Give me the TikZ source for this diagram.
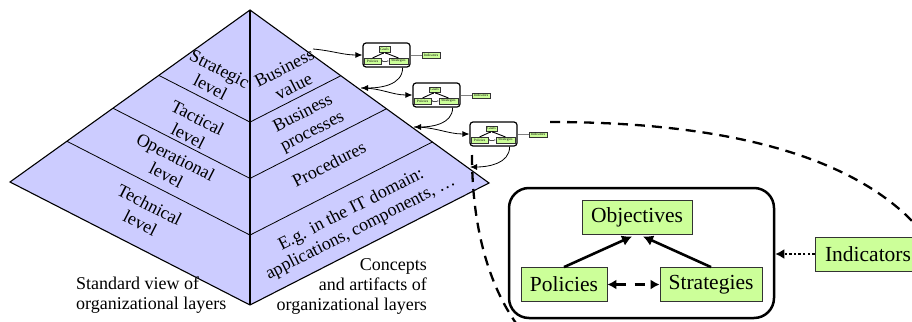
\documentclass[tikz,border=0pt]{standalone}
\usepackage{fontspec}
\setmainfont{Liberation Serif}
\usetikzlibrary{arrows.meta,calc}
\definecolor{lav}{RGB}{204,204,255}
\definecolor{lgreen}{RGB}{204,255,153}
\tikzset{
  edgeline/.style={line width=1.1pt,line join=miter},
  layerline/.style={line width=0.8pt},
  lefttxt/.style={rotate=-27,align=center,inner sep=0pt,font=\fontsize{18}{20.5}\selectfont},
  righttxt/.style={rotate=27,align=center,inner sep=0pt,font=\fontsize{18}{20.5}\selectfont},
  captxt/.style={inner sep=0pt,font=\fontsize{18}{20}\selectfont},
  miniframe/.style={draw,fill=white,line width=1.2pt,rounded corners=3pt,minimum width=47pt,minimum height=24pt,inner sep=0pt},
  minibox/.style={draw=black!80,fill=lgreen,line width=0.5pt,minimum height=5.5pt,inner sep=0.3pt,font=\fontsize{3.6}{4}\selectfont},
  miniarrow/.style={line width=0.9pt,-{Latex[length=2pt,width=2pt]}},
  minidbl/.style={line width=0.4pt,black!70,{Latex[length=1.5pt,width=1.5pt]}-{Latex[length=1.5pt,width=1.5pt]}},
  miniind/.style={line width=0.6pt,black!50},
  link/.style={line width=0.8pt,-{Latex[length=7pt,width=6pt]}},
  zoomline/.style={line width=2.3pt,dash pattern=on 10pt off 7pt},
  bigframe/.style={draw,line width=2.5pt,rounded corners=20pt,minimum width=265pt,minimum height=130pt,inner sep=0pt},
  gbox/.style={draw=black!80,fill=lgreen,line width=0.8pt,minimum height=34pt,inner sep=0pt,font=\fontsize{21.5}{24}\selectfont},
  bigarrow/.style={line width=2.6pt,-{Latex[length=10pt,width=11pt]}},
  dasharrow/.style={line width=2.6pt,dash pattern=on 10pt off 9pt,{Latex[length=9pt,width=10pt]}-{Latex[length=9pt,width=10pt]}},
  dotarrow/.style={line width=2.4pt,dash pattern=on 2.4pt off 2.2pt,-{Latex[length=9pt,width=10pt]}}
}
\newcommand{\minidiagram}[3]{%
  \begin{scope}[shift={(#2,#3)}]
    \node[miniframe] (#1) at (23.5,12) {};
    \node[minibox,minimum width=11pt] (#1g) at (21.5,6.5) {Goals};
    \node[minibox,minimum width=17pt] (#1p) at (9.5,18) {Policies};
    \node[minibox,minimum width=19pt] (#1s) at (35.5,18) {Strategies};
    \node[minibox,minimum width=18pt] (#1i) at (68,12.5) {Indicators};
    \draw[miniarrow] (#1p.north) -- (#1g.south);
    \draw[miniarrow] (#1s.north) -- (#1g.south);
    \draw[minidbl] (#1p.east) -- (#1s.west);
    \draw[miniind] (#1i.west) -- (#1i.west -| #1.east);
  \end{scope}}
\begin{document}
\begin{tikzpicture}[x=1pt,y=-1pt]
\useasboundingbox (0,0) rectangle (912,321);
% pyramid
\coordinate (A) at (250,10);
\coordinate (L) at (10,182);
\coordinate (B) at (250,305);
\coordinate (R) at (489,183);
\fill[lav] (A) -- (L) -- (B) -- (R) -- cycle;
\foreach \s in {0.38,0.571,0.763}
  \draw[layerline] ($(A)!\s!(L)$) -- ($(A)!\s!(B)$) -- ($(A)!\s!(R)$);
\draw[edgeline] (A) -- (L) -- (B) -- (R) -- cycle;
\draw[edgeline] (A) -- (B);
% left face texts
\node[lefttxt] (strat) at (215,78) {Strategic\\level};
\node[lefttxt] (tact) at (193,127) {Tactical\\level};
\node[lefttxt] (oper) at (171,166) {Operational\\level};
\node[lefttxt] (tech) at (145,214) {Technical\\level};
% right face texts
\node[righttxt] (bval) at (289,77) {Business\\value};
\node[righttxt] (bproc) at (308,123) {Business\\processes};
\node[righttxt] (proc) at (329,164) {Procedures};
\node[righttxt] (itdom) at (356,219) {E.g. in the IT domain:\\applications, components, \dots};
% captions
\node[captxt,anchor=north west,align=left] (cap1) at (76,277) {Standard view of\\organizational layers};
\node[captxt,anchor=north east,align=right] (cap2) at (427,258) {Concepts\\and artifacts of\\organizational layers};
% mini diagrams
\minidiagram{ma}{363}{43}
\minidiagram{mb}{413}{83}
\minidiagram{mc}{470}{122}
% connectors between pyramid and mini diagrams
\coordinate (p0) at (313,49);
\coordinate (p1) at (361,88);
\coordinate (p2) at (414,127);
\coordinate (p3) at (470,167);
\draw[link] (p0) to[out=-5,in=180] (ma.west);
\draw[link] (ma.-38) to[out=-90,in=0] (p1);
\draw[link] (p1) to[out=0,in=180] (mb.west);
\draw[link] (mb.-38) to[out=-90,in=0] (p2);
\draw[link] (p2) to[out=0,in=180] (mc.west);
\draw[link] (mc.-38) to[out=-90,in=0] (p3);
% zoom lines
\coordinate (d1s) at (472,155);
\coordinate (d1e) at (521,330);
\draw[zoomline] (d1s) .. controls (472,230) and (490,290) .. (d1e);
\coordinate (d2s) at (550,122);
\coordinate (d2e) at (932,245);
\draw[zoomline] (d2s) .. controls (760,122) and (880,170) .. (d2e);
% big diagram
\node[bigframe] (frame) at (641.5,253) {};
\node[gbox,minimum width=110pt] (obj) at (637,217) {Objectives};
\node[gbox,minimum width=86pt] (pol) at (564,284.5) {Policies};
\node[gbox,minimum width=102pt] (str) at (711,284.5) {Strategies};
\node[gbox,minimum width=106pt] (ind) at (868,254) {Indicators};
\draw[bigarrow] (pol.north) -- ($(obj.south)+(-5,2)$);
\draw[bigarrow] (str.north) -- ($(obj.south)+(6,2)$);
\draw[dasharrow] (pol.east) -- (str.west);
\draw[dotarrow] (ind.west) -- (ind.west -| frame.east);
\end{tikzpicture}
\end{document}
